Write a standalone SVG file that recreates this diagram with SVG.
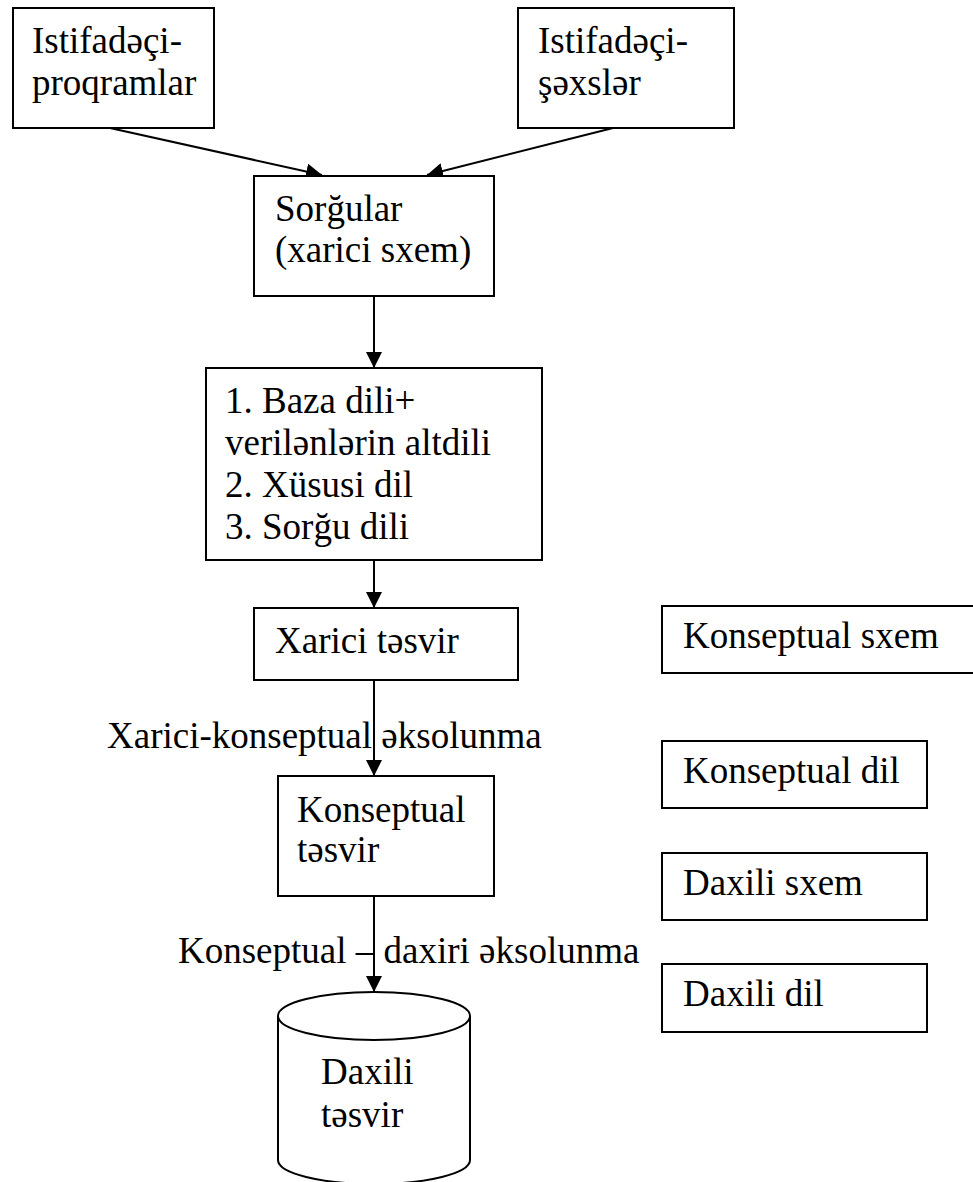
<svg xmlns="http://www.w3.org/2000/svg" width="973" height="1182" viewBox="0 0 973 1182">
  <style>
    .box { fill: #ffffff; stroke: #000000; stroke-width: 2; }
    .lbl { font-family: "Liberation Serif", "Times New Roman", serif; font-size: 37px; fill: #000000; }
    .edge { stroke: #000000; stroke-width: 2; fill: none; marker-end: url(#arrow); }
  </style>
  <defs>
    <marker id="arrow" markerUnits="userSpaceOnUse" markerWidth="16" markerHeight="16" viewBox="0 0 14 14" refX="14" refY="7" orient="auto">
      <path d="M0,0 L14,7 L0,14 Z" fill="#000000"/>
    </marker>
  </defs>
  <rect width="973" height="1182" fill="#ffffff"/>

  <!-- connectors -->
  <g id="connectors">
    <line class="edge" x1="110" y1="128" x2="322" y2="175"/>
    <line class="edge" x1="613" y1="128" x2="427" y2="175"/>
    <line class="edge" x1="374" y1="296" x2="374" y2="368"/>
    <line class="edge" x1="374" y1="560" x2="374" y2="608"/>
    <line class="edge" x1="374" y1="680" x2="374" y2="776"/>
    <line class="edge" x1="374" y1="896" x2="374" y2="992"/>
    <text class="lbl" x="107" y="748">Xarici-konseptual əksolunma</text>
    <text class="lbl" x="178" y="963">Konseptual – daxiri əksolunma</text>
  </g>

  <!-- nodes -->
  <g id="user-programs">
    <rect class="box" x="13" y="8" width="201" height="120"/>
    <text class="lbl" x="32" y="53">Istifadəçi-</text>
    <text class="lbl" x="32" y="95">proqramlar</text>
  </g>
  <g id="user-persons">
    <rect class="box" x="518" y="8" width="216" height="120"/>
    <text class="lbl" x="538" y="53">Istifadəçi-</text>
    <text class="lbl" x="538" y="95">şəxslər</text>
  </g>
  <g id="queries">
    <rect class="box" x="254" y="176" width="240" height="120"/>
    <text class="lbl" x="275" y="221">Sorğular</text>
    <text class="lbl" x="275" y="262">(xarici sxem)</text>
  </g>
  <g id="languages">
    <rect class="box" x="206" y="368" width="336" height="192"/>
    <text class="lbl" x="225" y="413">1. Baza dili+</text>
    <text class="lbl" x="225" y="455">verilənlərin altdili</text>
    <text class="lbl" x="225" y="497">2. Xüsusi dil</text>
    <text class="lbl" x="225" y="539">3. Sorğu dili</text>
  </g>
  <g id="external-view">
    <rect class="box" x="254" y="608" width="264" height="72"/>
    <text class="lbl" x="275" y="653">Xarici təsvir</text>
  </g>
  <g id="conceptual-view">
    <rect class="box" x="278" y="776" width="216" height="120"/>
    <text class="lbl" x="297" y="822">Konseptual</text>
    <text class="lbl" x="297" y="862">təsvir</text>
  </g>
  <g id="internal-view">
    <path class="box" d="M278,1016 L278,1160 A96,24 0 0 0 470,1160 L470,1016"/>
    <ellipse class="box" cx="374" cy="1016" rx="96" ry="24"/>
    <text class="lbl" x="321" y="1084">Daxili</text>
    <text class="lbl" x="321" y="1127">təsvir</text>
  </g>
  <g id="conceptual-schema">
    <rect class="box" x="662" y="606" width="320" height="67"/>
    <text class="lbl" x="683" y="648">Konseptual sxem</text>
  </g>
  <g id="conceptual-language">
    <rect class="box" x="662" y="741" width="265" height="67"/>
    <text class="lbl" x="683" y="783">Konseptual dil</text>
  </g>
  <g id="internal-schema">
    <rect class="box" x="662" y="853" width="265" height="67"/>
    <text class="lbl" x="683" y="895">Daxili sxem</text>
  </g>
  <g id="internal-language">
    <rect class="box" x="662" y="964" width="265" height="68"/>
    <text class="lbl" x="683" y="1006">Daxili dil</text>
  </g>
</svg>
